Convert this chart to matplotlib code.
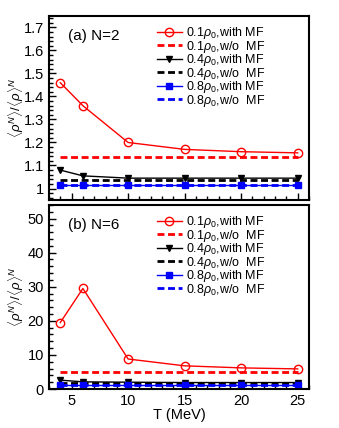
import numpy as np
import matplotlib.pyplot as plt
from matplotlib.ticker import MultipleLocator

plt.rcParams['font.family'] = ['Liberation Sans', 'DejaVu Sans']
plt.rcParams['mathtext.fontset'] = 'custom'
plt.rcParams['mathtext.rm'] = 'Liberation Sans'
plt.rcParams['mathtext.it'] = 'Liberation Sans:italic'

# Temperatures (MeV)
T = [4, 6, 10, 15, 20, 25]

# (a) N=2
a_01_mf = [1.46, 1.36, 1.20, 1.17, 1.16, 1.155]
a_01_no = [1.135, 1.135, 1.135, 1.135, 1.135, 1.135]
a_04_mf = [1.08, 1.055, 1.045, 1.045, 1.045, 1.045]
a_04_no = [1.038, 1.038, 1.038, 1.038, 1.038, 1.038]
a_08_mf = [1.015, 1.015, 1.015, 1.015, 1.015, 1.015]
a_08_no = [1.016, 1.016, 1.016, 1.016, 1.016, 1.016]

# (b) N=6
b_01_mf = [19.5, 29.5, 8.8, 6.8, 6.2, 5.9]
b_01_no = [5.0, 5.0, 5.0, 5.0, 5.0, 5.0]
b_04_mf = [2.6, 2.1, 2.0, 1.9, 1.9, 1.9]
b_04_no = [1.7, 1.7, 1.7, 1.7, 1.7, 1.7]
b_08_mf = [1.2, 1.2, 1.2, 1.2, 1.2, 1.2]
b_08_no = [1.3, 1.3, 1.3, 1.3, 1.3, 1.3]

labels = [r'0.1$\rho_0$,with MF', r'0.1$\rho_0$,w/o  MF',
          r'0.4$\rho_0$,with MF', r'0.4$\rho_0$,w/o  MF',
          r'0.8$\rho_0$,with MF', r'0.8$\rho_0$,w/o  MF']

fig = plt.figure(figsize=(3.39, 4.28), dpi=100)
ax1 = fig.add_axes([0.1445, 0.5327, 0.767, 0.43])
ax2 = fig.add_axes([0.1445, 0.0911, 0.767, 0.43])

dash = (0, (2.5, 1.3))

def draw(ax, d):
    ax.plot(T, d[0], color='red', lw=1, marker='o', ms=6, mfc='none', mec='red', label=labels[0])
    ax.plot(T, d[1], color='red', lw=2, ls=dash, label=labels[1])
    ax.plot(T, d[2], color='black', lw=1, marker='v', ms=5, label=labels[2])
    ax.plot(T, d[3], color='black', lw=2, ls=dash, label=labels[3])
    ax.plot(T, d[4], color='blue', lw=1, marker='s', ms=5, label=labels[4])
    ax.plot(T, d[5], color='blue', lw=2, ls=dash, label=labels[5])
    ax.legend(loc='upper left', bbox_to_anchor=(0.415, 0.95), frameon=False, fontsize=9,
              handlelength=2.0, handletextpad=0.35, labelspacing=-0.2, borderaxespad=0,
              borderpad=0)
    ax.set_xlim(3, 26)
    ax.xaxis.set_major_locator(MultipleLocator(5))
    ax.xaxis.set_minor_locator(MultipleLocator(1))
    ax.tick_params(which='both', direction='in', top=False, right=False, labelsize=10.5)
    ax.tick_params(which='major', length=5, width=1)
    ax.tick_params(which='minor', length=3, width=1)
    for s in ax.spines.values():
        s.set_linewidth(1.5)
    ax.set_ylabel(r'$\langle\rho^N\rangle/\langle\rho\rangle^N$', fontsize=9.5)
    ax.yaxis.set_label_coords(-0.09, 0.5)

draw(ax1, [a_01_mf, a_01_no, a_04_mf, a_04_no, a_08_mf, a_08_no])
ax1.set_ylim(0.95, 1.75)
ax1.yaxis.set_major_locator(MultipleLocator(0.1))
ax1.yaxis.set_minor_locator(MultipleLocator(0.02))
ax1.set_yticks([1.0, 1.1, 1.2, 1.3, 1.4, 1.5, 1.6, 1.7])
ax1.set_yticklabels(['1', '1.1', '1.2', '1.3', '1.4', '1.5', '1.6', '1.7'])
ax1.set_xticklabels([])
ax1.text(0.075, 0.87, '(a) N=2', transform=ax1.transAxes, fontsize=11)

draw(ax2, [b_01_mf, b_01_no, b_04_mf, b_04_no, b_08_mf, b_08_no])
ax2.set_ylim(0, 54)
ax2.yaxis.set_major_locator(MultipleLocator(10))
ax2.yaxis.set_minor_locator(MultipleLocator(2))
ax2.text(0.075, 0.87, '(b) N=6', transform=ax2.transAxes, fontsize=11)
ax2.set_xlabel('T (MeV)', fontsize=10.5, labelpad=0)

fig.savefig('out.png', dpi=100)
